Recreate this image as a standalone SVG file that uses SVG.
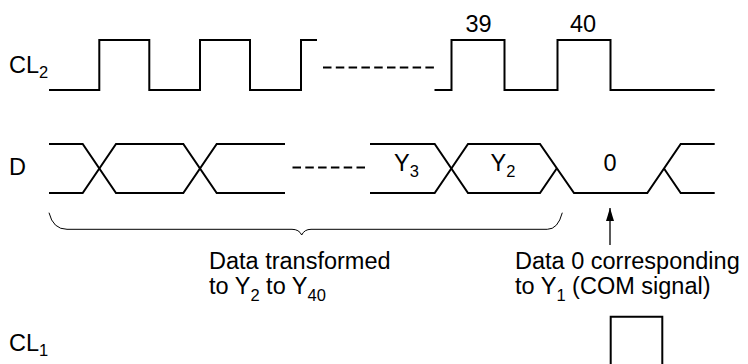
<svg xmlns="http://www.w3.org/2000/svg" width="748" height="364" viewBox="0 0 748 364">
<style>
.w{fill:none;stroke:#000;stroke-width:2;stroke-linejoin:miter;stroke-linecap:butt}
.d{fill:none;stroke:#000;stroke-width:2;stroke-dasharray:8.5 4.3}
.b{fill:none;stroke:#000;stroke-width:1}
.a{fill:none;stroke:#000;stroke-width:1.3}
text{font-family:"Liberation Sans",Arial,sans-serif;font-size:23.5px;fill:#000}
.s{font-size:16.5px}
</style>
<defs>
<marker id="ah" markerWidth="13" markerHeight="8" refX="13" refY="4" orient="auto" markerUnits="userSpaceOnUse" viewBox="0 0 13 8">
<path d="M0 0 L13 4 L0 8 Z" fill="#000"/>
</marker>
</defs>
<g id="labels">
<text x="9" y="73">CL<tspan class="s" dy="5">2</tspan></text>
<text x="9" y="175">D</text>
<text x="9" y="351">CL<tspan class="s" dy="5">1</tspan></text>
</g>
<g id="cl2">
<path class="w" d="M49 90 H99.3 V40 H149.3 V90 H200 V40 H250 V90 H301 V40 H317"/>
<path class="d" d="M323 67.5 H438"/>
<path class="w" d="M434.5 90 H451.5 V40 H504.5 V90 H557.5 V40 H610.5 V90 H714.7"/>
<text x="478.5" y="32" text-anchor="middle">39</text>
<text x="583" y="32" text-anchor="middle">40</text>
</g>
<g id="d">
<path class="w" d="M49 144 H82.7 L116 193 H183.3 L216.7 144 H285"/>
<path class="w" d="M49 193 H82.7 L116 144 H183.3 L216.7 193 H285"/>
<path class="d" d="M292.5 167.5 H367"/>
<path class="w" d="M370 144 H434.7 L468 193 H540 L556.7 168.5"/>
<path class="w" d="M370 193 H434.7 L468 144 H540 L574 193 H647.3 L680.7 144 H714.7"/>
<path class="w" d="M664 168.5 L680.7 193 H714.7"/>
<text x="394" y="171">Y<tspan class="s" dy="6">3</tspan></text>
<text x="490.5" y="171">Y<tspan class="s" dy="6">2</tspan></text>
<text x="610" y="171" text-anchor="middle">0</text>
</g>
<g id="brace">
<path class="b" d="M49 212.7 Q53 229.3 67 229.3 H292 Q299 229.3 301.7 235 Q304.4 229.3 311 229.3 H547.3 Q558 229.3 562.3 212.7"/>
<text x="209" y="269">Data transformed</text>
<text x="209" y="294">to Y<tspan class="s" dy="7">2</tspan><tspan dy="-7"> to Y</tspan><tspan class="s" dy="7">40</tspan></text>
</g>
<g id="connectors">
<path class="a" d="M610 245 V208" marker-end="url(#ah)"/>
</g>
<g id="annotation">
<text x="515" y="269">Data 0 corresponding</text>
<text x="515" y="294">to Y<tspan class="s" dy="7">1</tspan><tspan dy="-7"> (COM signal)</tspan></text>
</g>
<g id="cl1">
<path class="w" d="M610.7 364 V316.7 H662.3 V364"/>
</g>
</svg>
